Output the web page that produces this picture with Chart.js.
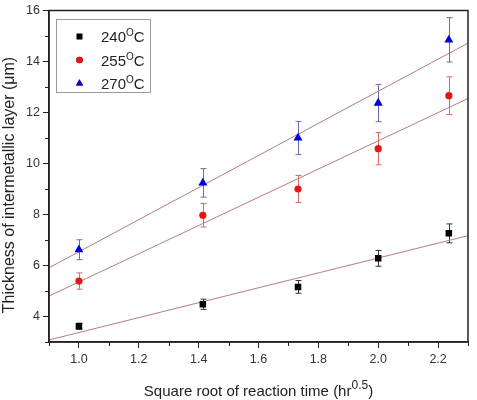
<!DOCTYPE html>
<html><head><meta charset="utf-8">
<script src="https://cdn.jsdelivr.net/npm/chart.js@4.4.0/dist/chart.umd.min.js"></script>
<style>html,body{margin:0;padding:0;background:#fff}canvas{display:block}</style>
</head><body>
<canvas id="c" width="477" height="400"></canvas>
<script>
// ---- data ----
const sqrtTime = [1.0, 1.414, 1.732, 2.0, 2.236];
const legendLabels = ['240', '255', '270'];
const thick240 = [3.62, 4.48, 5.16, 6.28, 7.26];
const thick255 = [5.39, 7.97, 9.00, 10.58, 12.66];
const thick270 = [6.62, 9.24, 11.00, 12.37, 14.85];
const err240 = [0.12, 0.20, 0.25, 0.31, 0.37];
const err255 = [0.32, 0.46, 0.53, 0.63, 0.74];
const err270 = [0.39, 0.56, 0.65, 0.73, 0.87];
const fitX = [0.9, 2.3];
const fit240 = [3.08, 7.17];
const fit255 = [4.80, 12.55];
const fit270 = [5.91, 14.72];
const xTickLabels = ['1.0', '1.2', '1.4', '1.6', '1.8', '2.0', '2.2'];
const yTickLabels = ['4', '6', '8', '10', '12', '14', '16'];
const xMinorTicks = [0.9, 1.1, 1.3, 1.5, 1.7, 1.9, 2.1, 2.3];
const yMinorTicks = [3, 5, 7, 9, 11, 13, 15];
const xTitle = 'Square root of reaction time (hr';
const xTitleSup = '0.5';
const yTitle = 'Thickness of intermetallic layer (\u03bcm)';

const FONT = "'Liberation Sans', Arial, sans-serif";
const colors = ['#000000', '#ee1111', '#0000dd'];
const errColors = ['#333333', '#d86a6a', '#6a6ab0'];
const styles = ['rect', 'circle', 'triangle'];
const radii = [4.6, 3.6, 5.2];
const fitColor = '#b87c7c';

const pts = (xs, ys) => xs.map((x, i) => ({x: x, y: ys[i]}));
const values = [thick240, thick255, thick270];
const errs = [err240, err255, err270];
const fits = [fit240, fit255, fit270];

const datasets = [];
values.forEach((v, i) => {
  datasets.push({type: 'scatter', data: pts(sqrtTime, v), pointStyle: styles[i], pointRadius: radii[i],
    backgroundColor: colors[i], borderColor: colors[i], borderWidth: 0, order: 0, errs: errs[i], errColor: errColors[i]});
});
fits.forEach((f) => {
  datasets.push({type: 'line', data: pts(fitX, f), borderColor: fitColor, borderWidth: 1, pointRadius: 0, fill: false, order: 5});
});

const decor = {
  id: 'decor',
  beforeDatasetsDraw(chart) {
    const ctx = chart.ctx, xs = chart.scales.x, ys = chart.scales.y;
    ctx.save();
    chart.data.datasets.forEach((ds) => {
      if (!ds.errs) return;
      ctx.strokeStyle = ds.errColor; ctx.lineWidth = 1;
      ds.data.forEach((p, i) => {
        const px = Math.round(xs.getPixelForValue(p.x)) + 0.5;
        const t = ys.getPixelForValue(p.y + ds.errs[i]);
        const b = ys.getPixelForValue(p.y - ds.errs[i]);
        ctx.beginPath();
        ctx.moveTo(px, t); ctx.lineTo(px, b);
        ctx.moveTo(px - 3, t); ctx.lineTo(px + 3, t);
        ctx.moveTo(px - 3, b); ctx.lineTo(px + 3, b);
        ctx.stroke();
      });
    });
    ctx.restore();
  },
  afterDraw(chart) {
    const ctx = chart.ctx, a = chart.chartArea, xs = chart.scales.x, ys = chart.scales.y;
    ctx.save();
    // frame
    ctx.strokeStyle = '#222'; ctx.lineWidth = 1.5;
    ctx.strokeRect(a.left, a.top, a.right - a.left, a.bottom - a.top);
    // minor ticks
    ctx.lineWidth = 1;
    ctx.beginPath();
    xMinorTicks.forEach(v => { const p = Math.round(xs.getPixelForValue(v)) + 0.5; ctx.moveTo(p, a.bottom); ctx.lineTo(p, a.bottom + 4); });
    yMinorTicks.forEach(v => { const p = Math.round(ys.getPixelForValue(v)) + 0.5; ctx.moveTo(a.left, p); ctx.lineTo(a.left - 4, p); });
    ctx.stroke();
    // x title
    ctx.fillStyle = '#222';
    ctx.textBaseline = 'alphabetic';
    ctx.font = '15px ' + FONT;
    const w1 = ctx.measureText(xTitle).width;
    ctx.font = '12px ' + FONT;
    const w2 = ctx.measureText(xTitleSup).width;
    ctx.font = '15px ' + FONT;
    const w3 = ctx.measureText(')').width;
    const cx = (a.left + a.right) / 2;
    let x0 = cx - (w1 + w2 + w3) / 2;
    ctx.textAlign = 'left';
    ctx.fillText(xTitle, x0, 396);
    ctx.font = '12px ' + FONT;
    ctx.fillText(xTitleSup, x0 + w1, 389);
    ctx.font = '15px ' + FONT;
    ctx.fillText(')', x0 + w1 + w2, 396);
    // y title
    ctx.save();
    ctx.translate(14, 185);
    ctx.rotate(-Math.PI / 2);
    ctx.textAlign = 'center';
    ctx.font = '16px ' + FONT;
    ctx.fillText(yTitle, 0, 0);
    ctx.restore();
    // legend
    ctx.strokeStyle = '#9a9a9a'; ctx.lineWidth = 1;
    ctx.strokeRect(56.5, 19.5, 94, 73);
    const rowsY = [36.5, 60, 83.5];
    const legR = [4, 3.3, 4.2];
    legendLabels.forEach((lab, i) => {
      Chart.helpers.drawPoint(ctx, {pointStyle: styles[i], radius: legR[i], borderWidth: 0}, 79.5, rowsY[i]);
      ctx.fillStyle = colors[i];
      ctx.fill();
      ctx.fillStyle = '#222';
      ctx.textAlign = 'left';
      ctx.font = '15px ' + FONT;
      const base = rowsY[i] + 5.5;
      ctx.fillText(lab, 101, base);
      const lw = ctx.measureText(lab).width;
      ctx.font = '10px ' + FONT;
      ctx.fillText('O', 101 + lw, base - 6);
      const ow = ctx.measureText('O').width;
      ctx.font = '15px ' + FONT;
      ctx.fillText('C', 101 + lw + ow, base);
    });
    ctx.restore();
  }
};

new Chart(document.getElementById('c'), {
  data: {datasets: datasets},
  options: {
    responsive: false, animation: false, devicePixelRatio: 1,
    layout: {padding: {left: 0, right: 9, top: 7, bottom: 0}},
    plugins: {legend: {display: false}, tooltip: {enabled: false}},
    scales: {
      x: {type: 'linear', min: 0.9, max: 2.3,
        afterBuildTicks: s => { s.ticks = xTickLabels.map(t => ({value: parseFloat(t)})); },
        afterFit: s => { s.height = 58; },
        ticks: {callback: (v) => xTickLabels.find(t => Math.abs(parseFloat(t) - v) < 1e-6), font: {family: FONT, size: 12.5}, color: '#333', padding: 4, maxRotation: 0, autoSkip: false},
        grid: {drawOnChartArea: false, drawTicks: true, tickLength: 6, color: '#222'},
        border: {display: true, color: '#222', width: 1.5}
      },
      y: {type: 'linear', min: 3, max: 16,
        afterBuildTicks: s => { s.ticks = yTickLabels.map(t => ({value: parseFloat(t)})); },
        afterFit: s => { s.width = 49; },
        ticks: {callback: (v) => yTickLabels.find(t => Math.abs(parseFloat(t) - v) < 1e-6), font: {family: FONT, size: 12.5}, color: '#333', padding: 3, autoSkip: false},
        grid: {drawOnChartArea: false, drawTicks: true, tickLength: 6, color: '#222'},
        border: {display: true, color: '#222', width: 1.5}
      }
    }
  },
  plugins: [decor]
});
</script>
</body></html>
